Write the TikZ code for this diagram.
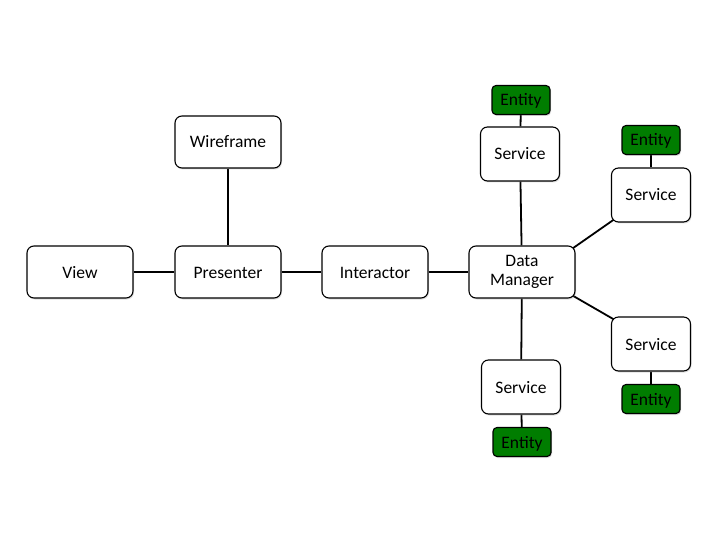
\documentclass[tikz,border=0pt]{standalone}
\usepackage{fontspec}
\setmainfont{Carlito}
\usetikzlibrary{shadows,backgrounds,calc}
\definecolor{entgreen}{RGB}{0,125,0}
\begin{document}
\begin{tikzpicture}[x=1pt,y=-1pt,
  basebox/.style={draw=black, line width=1.1pt, fill=white, rounded corners=7pt,
    minimum width=106pt, minimum height=52pt, inner sep=2pt,
    font=\fontsize{17.5}{20}\selectfont,
    drop shadow={shadow xshift=1pt, shadow yshift=-1.5pt, opacity=0.25}},
  box/.style={basebox, text height=15pt, text depth=3pt},
  svc/.style={box, minimum width=79pt, minimum height=54pt},
  ent/.style={draw=black, line width=1.1pt, fill=entgreen, rounded corners=4pt,
    minimum width=58pt, minimum height=29pt, inner sep=1pt,
    font=\fontsize{17.5}{20}\selectfont, text height=15pt, text depth=3pt,
    drop shadow={shadow xshift=1pt, shadow yshift=-1.5pt, opacity=0.25}},
  link/.style={line width=1.8pt, black}]
\useasboundingbox (0,0) rectangle (720,540);
\node[box] (view) at (80,272) {View};
\node[box] (pres) at (228,272) {Presenter};
\node[box] (wire) at (228,142) {Wireframe};
\node[box] (inter) at (375,272) {Interactor};
\node[basebox] (dm) at (522,272) {\raisebox{-3pt}{\begin{tabular}{@{}c@{}}Data\\[-1pt]Manager\end{tabular}}};
\node[svc] (s1) at (520,154) {Service};
\node[ent] (e1) at (521,100) {Entity};
\node[svc] (s2) at (651,195) {Service};
\node[ent] (e2) at (651,140) {Entity};
\node[svc] (s3) at (651,344) {Service};
\node[ent] (e3) at (651,399) {Entity};
\node[svc] (s4) at (521,387) {Service};
\node[ent] (e4) at (522,442) {Entity};
\begin{scope}[on background layer]
\draw[link] (view) -- (pres);
\draw[link] (wire) -- (pres);
\draw[link] (pres) -- (inter);
\draw[link] (inter) -- (dm);
\draw[link] (dm) -- (s1);
\draw[link] (s1) -- (e1);
\draw[link] ($(dm.north east)+(-3,3)$) -- ($(s2.south west)+(3,-3)$);
\draw[link] (s2) -- (e2);
\draw[link] ($(dm.south east)+(-3,-3)$) -- ($(s3.north west)+(3,3)$);
\draw[link] (s3) -- (e3);
\draw[link] (dm) -- (s4);
\draw[link] (s4) -- (e4);
\end{scope}
\end{tikzpicture}
\end{document}
